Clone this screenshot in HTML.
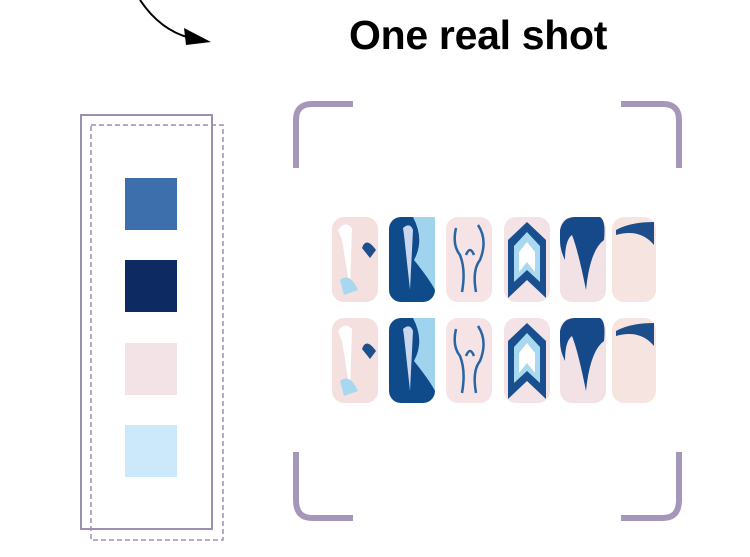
<!DOCTYPE html>
<html><head><style>
body{margin:0;width:750px;height:557px;background:#fff;overflow:hidden;position:relative;font-family:"Liberation Sans",sans-serif}
.t{position:absolute;left:349px;top:12px;font-weight:bold;font-size:41px;color:#000;letter-spacing:-0.3px}
</style></head><body>
<div class="t">One real shot</div>
<svg width="750" height="557" style="position:absolute;left:0;top:0">
<path d="M140 0 Q160 30 190 38" fill="none" stroke="#000" stroke-width="2"/>
<path d="M184 28 L211 42 L186 45 Z" fill="#000"/>
<g stroke="#a497b9" stroke-width="6" fill="none">
<path d="M296 168 V120 Q296 104 312 104 H353"/>
<path d="M296 452 V500 Q296 518 312 518 H353"/>
<path d="M679 168 V120 Q679 104 663 104 H621"/>
<path d="M679 452 V500 Q679 518 663 518 H621"/>
</g>
<rect x="81" y="115" width="131" height="414" fill="none" stroke="#9d8fb3" stroke-width="2"/>
<rect x="91" y="125" width="132" height="415" fill="none" stroke="#9d8fb3" stroke-width="1.5" stroke-dasharray="5,3"/>
<rect x="125" y="178" width="52" height="52" fill="#3d6fad"/>
<rect x="125" y="260" width="52" height="52" fill="#0e2a63"/>
<rect x="125" y="343" width="52" height="52" fill="#f3e2e6"/>
<rect x="125" y="425" width="52" height="52" fill="#cce9fb"/>
<g id="row">
<rect x="332" y="217" width="46" height="85" rx="12" fill="#f5e0e0"/>
<path d="M338 230 Q345 220 352 228 L350 290 L342 240 Z" fill="#fff"/>
<path d="M340 280 Q350 272 358 290 L344 295 Z" fill="#a8d8f0"/>
<path d="M362 248 Q366 236 376 250 L370 258 Z" fill="#1c4f8c"/>
<rect x="389" y="217" width="46" height="85" rx="12" fill="#0f4a8a"/>
<path d="M413 217 Q425 240 414 260 Q430 280 435 290 V217 Z" fill="#9fd3ee"/>
<path d="M403 228 Q410 222 413 230 L410 290 L404 235 Z" fill="#c9d6ee"/>
<rect x="446" y="217" width="46" height="85" rx="12" fill="#f5e3e6"/>
<g stroke="#2a65a3" stroke-width="2.5" fill="none"><path d="M456 228 Q452 245 460 255 Q466 270 462 292"/><path d="M478 225 Q488 240 480 260 Q472 270 476 292"/><path d="M466 255 Q470 245 474 255"/></g>
<rect x="504" y="217" width="46" height="85" rx="12" fill="#f3e2e6"/>
<path d="M527 222 L546 240 L546 298 L527 280 L508 298 L508 240 Z" fill="#1a4f8f"/>
<path d="M527 232 L540 246 L540 282 L527 270 L514 282 L514 246 Z" fill="#a9d9f0"/>
<path d="M527 242 L535 252 L535 272 L527 262 L519 272 L519 252 Z" fill="#fff"/>
<rect x="560" y="217" width="46" height="85" rx="12" fill="#f2e2e6"/>
<path d="M560 230 Q563 217 575 217 H600 Q606 220 604 240 Q590 250 586 290 Q578 250 572 235 Q565 240 565 260 Q560 250 560 240 Z" fill="#16498a"/>
<rect x="612" y="217" width="44" height="85" rx="12" fill="#f6e4e0"/>
<path d="M616 230 Q630 222 654 222 V245 Q640 228 616 235 Z" fill="#1d4e8c"/>
</g>
<use href="#row" y="101"/>
</svg>
</body></html>
